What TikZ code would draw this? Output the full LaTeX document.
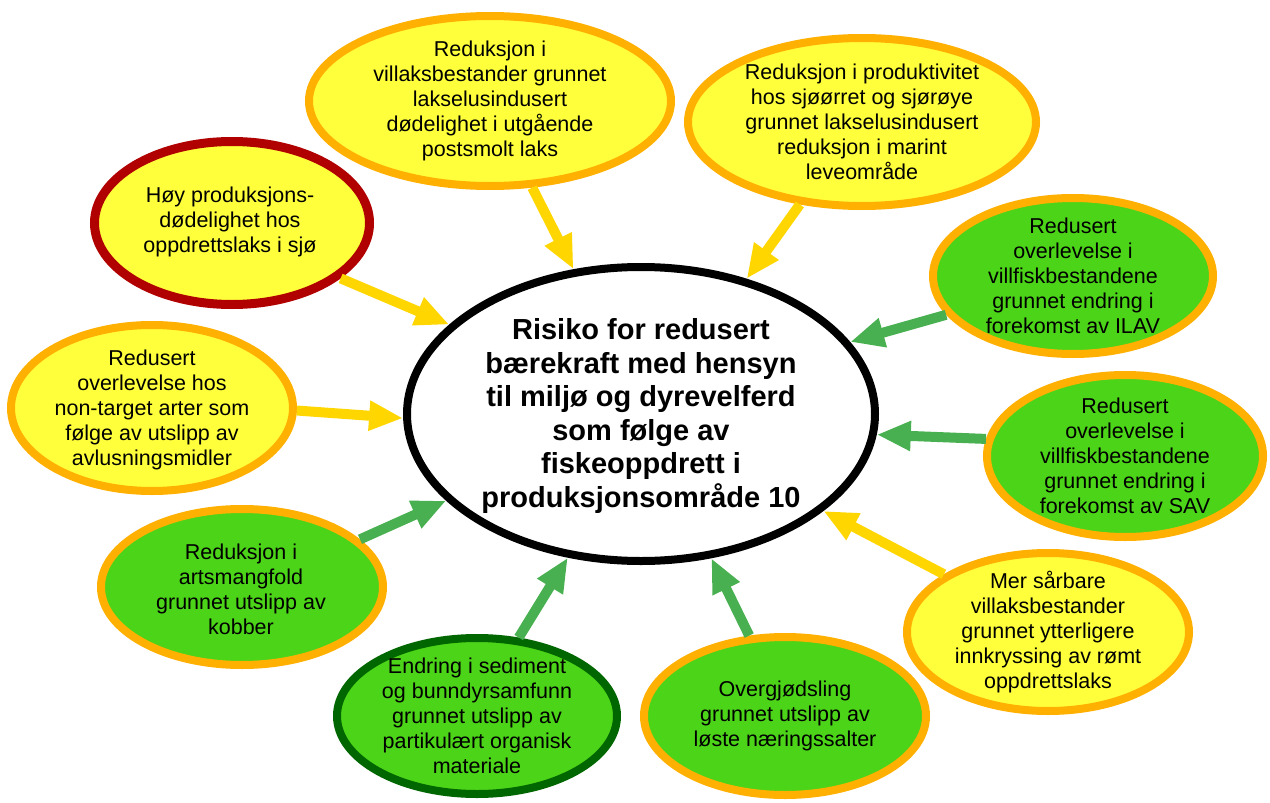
\documentclass[tikz,border=0pt]{standalone}
\usepackage{fontspec}
\setmainfont{Liberation Sans}
\usetikzlibrary{shapes.geometric,arrows.meta}
\definecolor{yfill}{RGB}{255,255,60}
\definecolor{oborder}{RGB}{255,176,0}
\definecolor{gfill}{RGB}{76,212,25}
\definecolor{dgreen}{RGB}{0,102,0}
\definecolor{redb}{RGB}{176,0,0}
\definecolor{yarrow}{RGB}{255,214,0}
\definecolor{garrow}{RGB}{72,176,80}
\tikzset{
  bubble/.style={ellipse, inner sep=0pt, line width=8pt},
  ybub/.style={bubble, fill=yfill, draw=oborder},
  gbub/.style={bubble, fill=gfill, draw=oborder},
  txt/.style={align=center, inner sep=0pt, font=\fontsize{21.5}{25}\selectfont, text=black},
  ctxt/.style={align=center, inner sep=0pt, font=\bfseries\fontsize{29}{33.5}\selectfont, text=black},
  arr/.style={line width=10pt, -{Triangle[length=34pt,width=28pt]}},
  yarr/.style={arr, draw=yarrow, fill=yarrow},
  garr/.style={arr, draw=garrow, fill=garrow}
}
\begin{document}
\begin{tikzpicture}[x=1pt,y=-1pt]
\useasboundingbox (0,0) rectangle (1270,803);
% central
\node[bubble, fill=white, draw=black, minimum width=468pt, minimum height=294pt] (C) at (641,414) {};
\node[ctxt] (Ct) at (641,416) {Risiko for redusert\\bærekraft med hensyn\\til miljø og dyrevelferd\\som følge av\\fiskeoppdrett i\\produksjonsområde 10};
% surrounding
\node[ybub, minimum width=362pt, minimum height=170pt] (A1) at (490,101) {};
\node[txt] (A1t) at (490,101) {Reduksjon i\\villaksbestander grunnet\\lakselusindusert\\dødelighet i utgående\\postsmolt laks};
\node[ybub, minimum width=348pt, minimum height=168pt] (A2) at (862,122) {};
\node[txt] (A2t) at (862,122) {Reduksjon i produktivitet\\hos sjøørret og sjørøye\\grunnet lakselusindusert\\reduksjon i marint\\leveområde};
\node[bubble, fill=yfill, draw=redb, line width=9pt, minimum width=275pt, minimum height=163pt] (R) at (232,223) {};
\node[txt] (Rt) at (230,222) {Høy produksjons-\\dødelighet hos\\oppdrettslaks i sjø};
\node[gbub, minimum width=280pt, minimum height=156pt] (IL) at (1073,276) {};
\node[txt] (ILt) at (1073,276) {Redusert\\overlevelse i\\villfiskbestandene\\grunnet endring i\\forekomst av ILAV};
\node[ybub, minimum width=282pt, minimum height=166pt] (NT) at (152,408) {};
\node[txt] (NTt) at (152,410) {Redusert\\overlevelse hos\\non-target arter som\\følge av utslipp av\\avlusningsmidler};
\node[gbub, minimum width=276pt, minimum height=162pt] (SV) at (1125,456) {};
\node[txt] (SVt) at (1125,456) {Redusert\\overlevelse i\\villfiskbestandene\\grunnet endring i\\forekomst av SAV};
\node[ybub, minimum width=282pt, minimum height=158pt] (MS) at (1048,632) {};
\node[txt] (MSt) at (1048,632) {Mer sårbare\\villaksbestander\\grunnet ytterligere\\innkryssing av rømt\\oppdrettslaks};
\node[gbub, minimum width=282pt, minimum height=156pt] (AM) at (242,587) {};
\node[txt] (AMt) at (241,589) {Reduksjon i\\artsmangfold\\grunnet utslipp av\\kobber};
\node[bubble, fill=gfill, draw=dgreen, minimum width=280pt, minimum height=156pt] (SD) at (477,716) {};
\node[txt] (SDt) at (477,716) {Endring i sediment\\og bunndyrsamfunn\\grunnet utslipp av\\partikulært organisk\\materiale};
\node[gbub, minimum width=282pt, minimum height=158pt] (OV) at (785,716) {};
\node[txt] (OVt) at (785,716) {Overgjødsling\\grunnet utslipp av\\løste næringssalter};
% arrows
\draw[yarr] (A1.-64) -- (C.115);
\draw[yarr] (A2.-127) -- (C.52);
\draw[yarr] (R.-27) -- (C.155);
\draw[garr] (IL.-163) -- (C.19);
\draw[yarr] (NT.-1) -- (C.-179);
\draw[garr] (SV.173) -- (C.-5);
\draw[garr] (AM.22) -- (C.-156);
\draw[yarr] (MS.151) -- (C.-28);
\draw[garr] (SD.62) -- (C.-117);
\draw[garr] (OV.114) -- (C.-64);
\end{tikzpicture}
\end{document}
